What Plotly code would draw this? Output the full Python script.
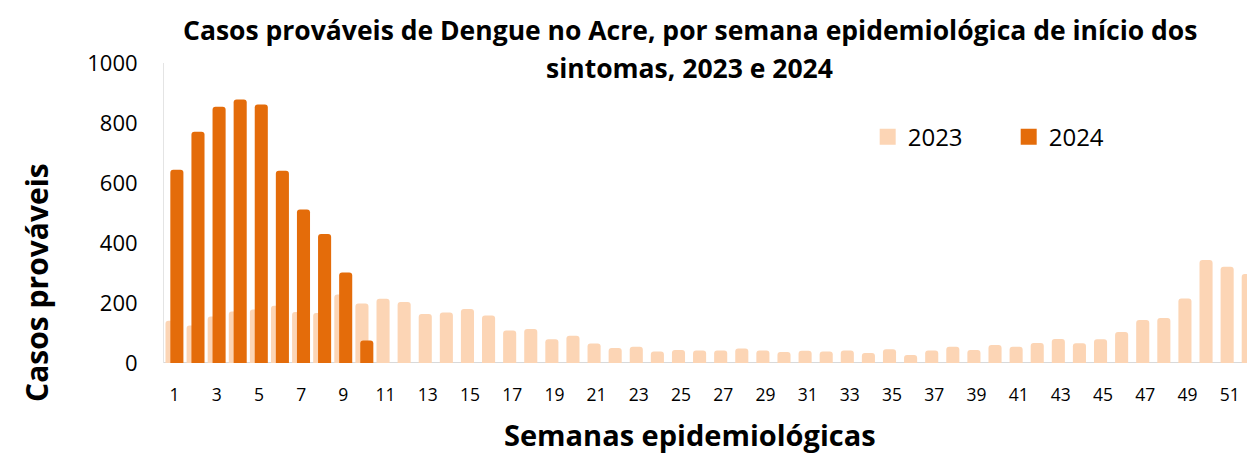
import plotly.graph_objects as go

weeks_2023 = list(range(1, 53))
cases_2023 = [141, 125, 155, 172, 178, 191, 170, 167, 228, 198,
              214, 203, 163, 168, 180, 158, 108, 113, 79, 91,
              65, 50, 54, 38, 43, 42, 42, 48, 42, 37,
              41, 38, 42, 33, 46, 27, 42, 54, 43, 60,
              54, 67, 80, 66, 79, 103, 143, 150, 215, 343,
              321, 297]
weeks_2024 = list(range(1, 11))
cases_2024 = [644, 771, 854, 878, 862, 641, 512, 430, 302, 75]
tick_vals = list(range(1, 53, 2))
y_ticks = [0, 200, 400, 600, 800, 1000]

title_l1 = "Casos prováveis de Dengue no Acre, por semana epidemiológica de início dos"
title_l2 = "sintomas, 2023 e 2024"

FONT = "Open Sans"
C2023 = "#FCD5B5"
C2024 = "#E46C0A"

fig = go.Figure()
fig.add_trace(go.Bar(x=weeks_2023, y=cases_2023, name="2023", showlegend=False,
                     legendgroup="2023",
                     marker=dict(color=C2023, line=dict(width=0)),
                     width=0.62, offset=-0.43))
fig.add_trace(go.Bar(x=weeks_2024, y=cases_2024, name="2024", showlegend=False,
                     legendgroup="2024",
                     marker=dict(color=C2024, line=dict(width=0)),
                     width=0.62, offset=-0.2))
# legend entries with larger square swatches
for nm, col in (("2023", C2023), ("2024", C2024)):
    fig.add_trace(go.Scatter(x=[None], y=[None], mode="markers", name=nm,
                             legendgroup=nm, showlegend=True,
                             marker=dict(symbol="square", size=16, color=col,
                                         line=dict(width=0))))

# the page body adds an 8px margin, so the figure is sized/positioned accordingly
fig.update_layout(
    width=1247, height=447,
    margin=dict(l=156, r=0, t=55, b=92, autoexpand=False),
    paper_bgcolor="white", plot_bgcolor="white",
    barmode="overlay", barcornerradius=3,
    font=dict(family=FONT, color="black"),
    showlegend=True,
    legend=dict(orientation="h", x=0.645, y=0.753, xanchor="left", yanchor="middle",
                font=dict(size=24, family=FONT), bgcolor="rgba(0,0,0,0)",
                entrywidth=96, entrywidthmode="pixels", itemsizing="trace"),
    xaxis=dict(range=[0.5, 52.2], tickmode="array", tickvals=tick_vals,
               ticktext=[str(v) for v in tick_vals], tickfont=dict(size=17.5),
               showgrid=False, showline=False, zeroline=False, ticks="",
               ticklabelstandoff=19, automargin=False),
    yaxis=dict(range=[0, 1000], tickmode="array", tickvals=y_ticks,
               tickfont=dict(size=22), showgrid=False, zeroline=False,
               showline=True, linecolor="#E4E4E4", linewidth=1, ticks="",
               ticklabelstandoff=21, automargin=False),
    shapes=[dict(type="line", xref="paper", yref="y", x0=0, x1=1, y0=0, y1=0,
                 line=dict(color="#D9D9D9", width=2), layer="below")],
    annotations=[
        dict(text="<b>" + title_l1 + "</b>", xref="paper", yref="paper",
             x=0.482, y=1.11, xanchor="center", yanchor="middle", showarrow=False,
             font=dict(size=26.5, family=FONT)),
        dict(text="<b>" + title_l2 + "</b>", xref="paper", yref="paper",
             x=0.482, y=0.983, xanchor="center", yanchor="middle", showarrow=False,
             font=dict(size=26.5, family=FONT)),
        dict(text="<b>Casos prováveis</b>", xref="paper", yref="paper",
             x=-0.1164, y=0.267, xanchor="center", yanchor="middle", showarrow=False,
             textangle=-90, font=dict(size=30, family=FONT)),
        dict(text="<b>Semanas epidemiológicas</b>", xref="paper", yref="paper",
             x=0.482, y=-0.237, xanchor="center", yanchor="middle", showarrow=False,
             font=dict(size=29, family=FONT)),
    ],
)

fig.write_html("out.html")
